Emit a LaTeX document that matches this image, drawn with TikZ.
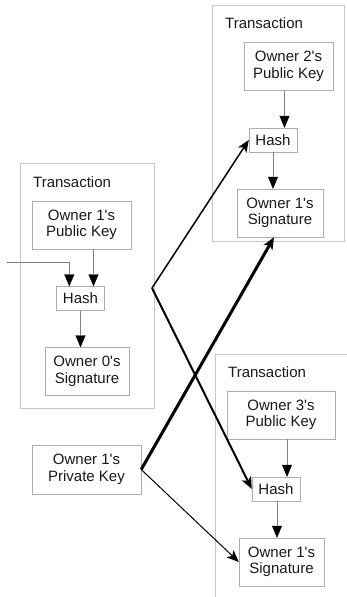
\documentclass[tikz,border=0pt]{standalone}
\usepackage{fontspec}
\setmainfont{Liberation Sans}
\usepackage{tikz}
\usetikzlibrary{
  arrows.meta,
  positioning
}
\colorlet{txline}{black!22}
\colorlet{boxline}{black!32}
\colorlet{flowline}{black!50}
\newcommand{\ap}{\textquotesingle}
\tikzset{
  every node/.style={font=\fontsize{15}{16.5}\selectfont, text=black!90},
  txbox/.style={draw=txline, minimum height=245pt, inner sep=0pt},
  title/.style={anchor=west, inner sep=0pt},
  keybox/.style={draw=boxline, align=center, inner sep=0pt, minimum height=48pt},
  hashbox/.style={draw=boxline, inner sep=0pt, minimum width=48pt, minimum height=24pt},
  flow/.style={draw=flowline, -{Triangle[width=10pt,length=12pt,color=black]}},
  spend/.style={draw=black, -{Stealth[width=10pt,length=12pt,inset=3pt]}},
}

\begin{document}
\begin{tikzpicture}[x=1pt, y=-1pt]
\useasboundingbox (0,0) rectangle (346,597);
% transaction frames
\node[txbox, minimum width=134pt] (txA) at (87,285.5) {};
\node[txbox, minimum width=132pt, minimum height=236pt] (txB) at (278,123) {};
\node[txbox, minimum width=160pt, minimum height=270pt] (txC) at (295,489) {};
\node[title] (titleA) at (33,182) {Transaction};
\node[title] (titleB) at (225,23) {Transaction};
\node[title] (titleC) at (228,372) {Transaction};

% left transaction
\node[keybox, minimum width=99pt] (pubA) at (81.5,225) {Owner 1\ap s\\Public Key};
\node[hashbox] (hashA) at (80.5,298.5) {Hash};
\node[keybox, minimum width=84pt] (sigA) at (87,371.5) {Owner 0\ap s\\Signature};
\coordinate (inA) at (7,262);

% upper right transaction
\node[keybox, minimum width=89pt] (pubB) at (288.5,66.5) {Owner 2\ap s\\Public Key};
\node[hashbox] (hashB) at (273,140) {Hash};
\node[keybox, minimum width=86pt] (sigB) at (280,213) {Owner 1\ap s\\Signature};

% lower right transaction
\node[keybox, minimum width=108pt] (pubC) at (281,415) {Owner 3\ap s\\Public Key};
\node[hashbox] (hashC) at (276,489) {Hash};
\node[keybox, minimum width=85pt] (sigC) at (281.5,562) {Owner 1\ap s\\Signature};

\node[keybox, minimum width=109pt, minimum height=49pt] (priv) at (86.5,469.5) {Owner 1\ap s\\Private Key};
\coordinate (fork) at (152,288);

% thin arrows inside the transactions
\draw[flow] (inA) -| ([xshift=13pt]hashA.north west);
\draw[flow] ([xshift=12pt]pubA.south) -- ([xshift=12pt]pubA.south |- hashA.north);
\draw[flow] (hashA.south) -- (hashA.south |- sigA.north);
\draw[flow] ([xshift=-4pt]pubB.south) -- ([xshift=-4pt]pubB.south |- hashB.north);
\draw[flow] (hashB.south) -- (hashB.south |- sigB.north);
\draw[flow] ([xshift=6pt]pubC.south) -- ([xshift=6pt]pubC.south |- hashC.north);
\draw[flow] ([xshift=1pt]hashC.south) -- ([xshift=1pt]hashC.south |- sigC.north);

% hashing and signing into the next owners
\draw[spend, line width=1.5pt] (fork) -- (hashB.west);
\draw[spend, line width=2pt] (fork) -- (hashC.west);
\draw[spend, line width=3pt] (priv.east) -- ([xshift=-6pt]sigB.south);
\draw[spend, line width=1pt] (priv.east) -- (sigC.west);
\end{tikzpicture}
\end{document}
